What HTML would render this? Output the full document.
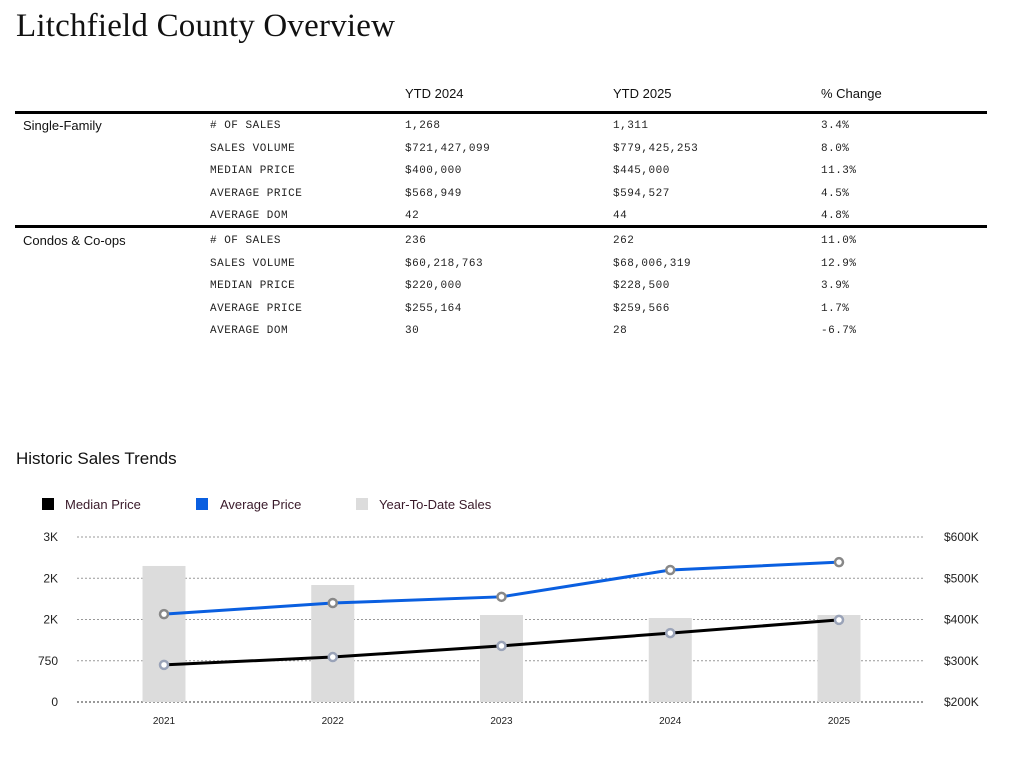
<!DOCTYPE html>
<html><head><meta charset="utf-8"><style>
body{margin:0;width:1017px;height:767px;background:#fff;position:relative;overflow:hidden;font-family:"Liberation Sans",sans-serif;color:#111}
.a{position:absolute;white-space:nowrap}
.t{font-family:"Liberation Serif",serif;font-size:33px;left:16px;top:8px;letter-spacing:.2px}
.h{font-size:13px;top:86px}
.m{font-family:"Liberation Mono",monospace;font-size:11px;letter-spacing:.5px;color:#222}
.c{font-size:13px}
.rule{position:absolute;left:15px;width:972px;height:3px;background:#000}
</style></head><body>
<div class="a t">Litchfield County Overview</div>
<div class="a h" style="left:405px">YTD 2024</div>
<div class="a h" style="left:613px">YTD 2025</div>
<div class="a h" style="left:821px">% Change</div>
<div class="rule" style="top:111px"></div>
<div class="rule" style="top:225px"></div>
<div id="tbl"></div>
<div class="a" style="left:16px;top:449px;font-size:17px">Historic Sales Trends</div>
<svg class="a" style="left:0;top:480px" width="1017" height="287" id="chart"></svg>
<script>
const rows=[
["Single-Family","# OF SALES","1,268","1,311","3.4%"],
["","SALES VOLUME","$721,427,099","$779,425,253","8.0%"],
["","MEDIAN PRICE","$400,000","$445,000","11.3%"],
["","AVERAGE PRICE","$568,949","$594,527","4.5%"],
["","AVERAGE DOM","42","44","4.8%"],
["Condos & Co-ops","# OF SALES","236","262","11.0%"],
["","SALES VOLUME","$60,218,763","$68,006,319","12.9%"],
["","MEDIAN PRICE","$220,000","$228,500","3.9%"],
["","AVERAGE PRICE","$255,164","$259,566","1.7%"],
["","AVERAGE DOM","30","28","-6.7%"]];
const tbl=document.getElementById('tbl');
const xs=[23,210,405,613,821];
rows.forEach((r,i)=>{const y=(i<5?120+i*22.5:235+(i-5)*22.5);
r.forEach((v,j)=>{if(!v)return;const d=document.createElement('div');
d.className='a '+(j==0?'c':'m');d.style.left=xs[j]+'px';d.style.top=(j==0?y-2:y)+'px';d.textContent=v;


tbl.appendChild(d);});});
</script>
<script>
const years=["2021","2022","2023","2024","2025"];
const sales=[2473,2127,1582,1527,1582];
const avgPrice=[413,440,455,520,539];
const medPrice=[290,309,336,367,399];
const leftTicks=[0,750,1500,2250,3000];
const leftLabels=["0","750","2K","2K","3K"];
const rightTicks=[200,300,400,500,600];
const rightLabels=["$200K","$300K","$400K","$500K","$600K"];
const svg=document.getElementById('chart');const NS='http://www.w3.org/2000/svg';
const oy=480;
const yL=v=>702-oy-v/3000*165;
const yR=v=>702-oy-(v-200)/400*165;
const xP=i=>164+i*168.75;
function el(t,a,txt){const e=document.createElementNS(NS,t);for(const k in a)e.setAttribute(k,a[k]);if(txt!=null)e.textContent=txt;svg.appendChild(e);return e;}
let e;
e=el('rect',{x:42,y:18,width:12,height:12,fill:'#000'});
e=el('text',{x:65,y:29,'font-size':13,fill:'#3a1a2a'},'Median Price');
e=el('rect',{x:196,y:18,width:12,height:12,fill:'#0a5fe0'});
e=el('text',{x:220,y:29,'font-size':13,fill:'#3a1a2a'},'Average Price');
e=el('rect',{x:356,y:18,width:12,height:12,fill:'#dcdcdc'});
e=el('text',{x:379,y:29,'font-size':13,fill:'#3a1a2a'},'Year-To-Date Sales');
leftTicks.forEach((t,i)=>{const y=yL(t);
e=el('line',{x1:77,x2:925,y1:y,y2:y,stroke:i==0?'#333':'#999','stroke-dasharray':'2,2','stroke-width':1});
e=el('text',{x:58,y:y+4,'font-size':12,'text-anchor':'end',fill:'#222'},leftLabels[i]);});
rightTicks.forEach((t,i)=>{const y=yR(t);
e=el('text',{x:944,y:y+4,'font-size':12,fill:'#222'},rightLabels[i]);});
sales.forEach((v,i)=>{
e=el('rect',{x:xP(i)-21.5,y:yL(v),width:43,height:yL(0)-yL(v),fill:'#dcdcdc'});
e=el('text',{x:xP(i),y:244,'font-size':10,'text-anchor':'middle',fill:'#222'},years[i]);});
e=el('polyline',{points:medPrice.map((v,i)=>xP(i)+','+yR(v)).join(' '),fill:'none',stroke:'#000','stroke-width':3});
e=el('polyline',{points:avgPrice.map((v,i)=>xP(i)+','+yR(v)).join(' '),fill:'none',stroke:'#0a5fe0','stroke-width':3});
medPrice.forEach((v,i)=>{e=el('circle',{cx:xP(i),cy:yR(v),r:4,fill:'#fff',stroke:'#9aa3b8','stroke-width':2.5});});
avgPrice.forEach((v,i)=>{e=el('circle',{cx:xP(i),cy:yR(v),r:4,fill:'#fff',stroke:'#888','stroke-width':2.5});});
</script>
</body></html>
